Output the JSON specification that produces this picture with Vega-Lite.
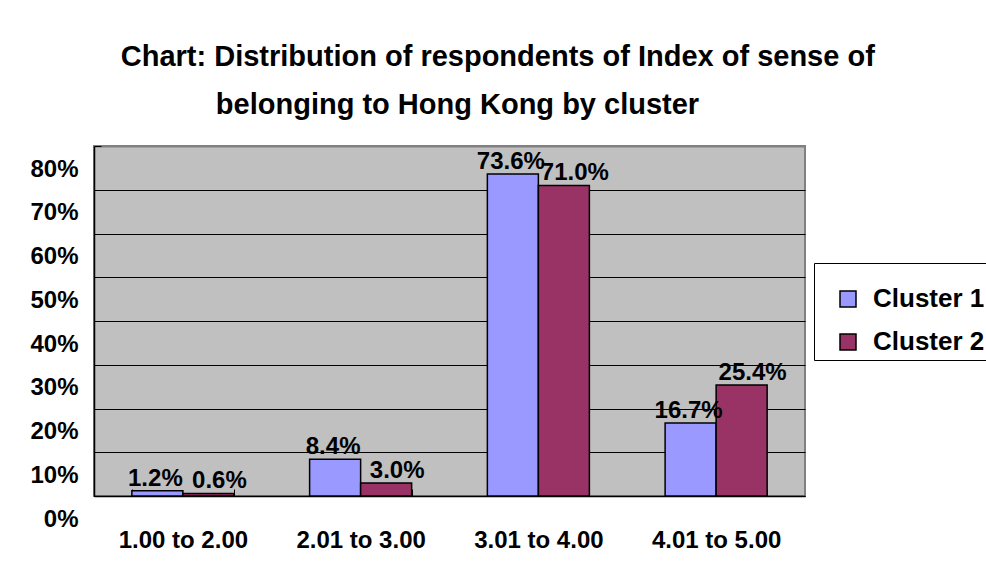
{
  "$schema": "https://vega.github.io/schema/vega-lite/v6.json",
  "width": 711,
  "height": 350,
  "autosize": {"type": "none"},
  "padding": {"left": 94, "top": 146, "right": 181, "bottom": 66},
  "background": "white",
  "title": {
    "text": ["\u200b\u00a0\u00a0\u00a0\u00a0\u00a0\u00a0\u00a0\u00a0\u00a0\u00a0Chart: Distribution of respondents of Index of sense of", "belonging to Hong Kong by cluster"],
    "font": "Liberation Sans",
    "fontSize": 29,
    "fontWeight": "bold",
    "color": "black",
    "anchor": "middle",
    "frame": "group",
    "dx": 8,
    "baseline": "alphabetic",
    "lineHeight": 48.7,
    "offset": 2
  },
  "data": {
    "values": [
      {"category": "1.00 to 2.00", "cluster": "Cluster 1", "value": 0.012},
      {"category": "1.00 to 2.00", "cluster": "Cluster 2", "value": 0.006},
      {"category": "2.01 to 3.00", "cluster": "Cluster 1", "value": 0.084},
      {"category": "2.01 to 3.00", "cluster": "Cluster 2", "value": 0.030},
      {"category": "3.01 to 4.00", "cluster": "Cluster 1", "value": 0.736},
      {"category": "3.01 to 4.00", "cluster": "Cluster 2", "value": 0.710},
      {"category": "4.01 to 5.00", "cluster": "Cluster 1", "value": 0.167},
      {"category": "4.01 to 5.00", "cluster": "Cluster 2", "value": 0.254}
    ]
  },
  "encoding": {
    "x": {
      "field": "category",
      "type": "nominal",
      "title": null,
      "scale": {"paddingInner": 0.426, "paddingOuter": 0.213},
      "axis": {
        "labelAngle": 0,
        "labelFont": "Liberation Sans",
        "labelFontSize": 24,
        "labelFontWeight": "bold",
        "labelColor": "black",
        "labelBaseline": "alphabetic",
        "labelPadding": 58,
        "ticks": true,
        "tickBand": "extent",
        "tickSize": -7,
        "tickColor": "black",
        "tickWidth": 1,
        "domainColor": "black",
        "domainWidth": 1.5
      }
    },
    "xOffset": {"field": "cluster", "type": "nominal"},
    "y": {
      "field": "value",
      "type": "quantitative",
      "title": null,
      "scale": {"domain": [0, 0.8]},
      "axis": {
        "values": [0, 0.1, 0.2, 0.3, 0.4, 0.5, 0.6, 0.7, 0.8],
        "format": ".0%",
        "labelFont": "Liberation Sans",
        "labelFontSize": 24,
        "labelFontWeight": "bold",
        "labelColor": "black",
        "labelPadding": 23,
        "labelOffset": 23,
        "labelOverlap": false,
        "labelBound": false,
        "labelFlush": false,
        "ticks": true,
        "tickSize": -7,
        "tickColor": "black",
        "grid": true,
        "gridColor": {"condition": {"test": "datum.value >= 0.79", "value": "#808080"}, "value": "black"},
        "gridWidth": {"condition": {"test": "datum.value >= 0.79", "value": 2}, "value": 1},
        "gridOpacity": 1,
        "domainColor": "black",
        "domainWidth": 1.5
      }
    }
  },
  "layer": [
    {
      "mark": {"type": "bar", "stroke": "black", "strokeWidth": 1.5},
      "encoding": {
        "color": {
          "field": "cluster",
          "type": "nominal",
          "scale": {"domain": ["Cluster 1", "Cluster 2"], "range": ["#9999ff", "#993366"]},
          "legend": {
            "title": "\u200b\u00a0\u00a0\u00a0\u00a0\u00a0\u00a0\u00a0\u00a0\u00a0\u00a0\u00a0\u00a0\u00a0\u00a0\u00a0\u00a0\u00a0\u00a0\u00a0\u00a0\u00a0\u00a0\u00a0\u00a0\u00a0\u00a0\u00a0\u00a0\u00a0\u00a0\u00a0\u00a0\u00a0\u00a0\u00a0\u00a0\u00a0\u00a0\u00a0\u00a0\u00a0\u00a0\u00a0\u00a0\u00a0\u00a0\u00a0\u00a0\u00a0\u00a0\u200b",
            "titleFontSize": 12,
            "titleLimit": 400,
            "titlePadding": 6,
            "orient": "none",
            "legendX": 720,
            "legendY": 117,
            "direction": "vertical",
            "strokeColor": "black",
            "fillColor": "white",
            "padding": 5,
            "symbolType": "square",
            "symbolSize": 256,
            "symbolStrokeColor": "black",
            "symbolStrokeWidth": 1.5,
            "symbolOffset": 16,
            "labelOffset": 12,
            "labelFont": "Liberation Sans",
            "labelFontSize": 26,
            "labelFontWeight": "bold",
            "labelColor": "black",
            "labelLimit": 300,
            "rowPadding": 17
          }
        }
      }
    },
    {
      "transform": [{"filter": "datum.cluster == 'Cluster 1'"}],
      "mark": {"type": "text", "baseline": "alphabetic", "align": "center", "dx": -2, "dy": -5, "font": "Liberation Sans", "fontSize": 24, "fontWeight": "bold", "color": "black"},
      "encoding": {"text": {"field": "value", "type": "quantitative", "format": ".1%"}}
    },
    {
      "transform": [{"filter": "datum.cluster == 'Cluster 2'"}],
      "mark": {"type": "text", "baseline": "alphabetic", "align": "center", "dx": 11, "dy": -5, "font": "Liberation Sans", "fontSize": 24, "fontWeight": "bold", "color": "black"},
      "encoding": {"text": {"field": "value", "type": "quantitative", "format": ".1%"}}
    }
  ],
  "config": {
    "font": "Liberation Sans",
    "view": {"fill": "#c0c0c0", "stroke": "#808080", "strokeWidth": 2}
  }
}
